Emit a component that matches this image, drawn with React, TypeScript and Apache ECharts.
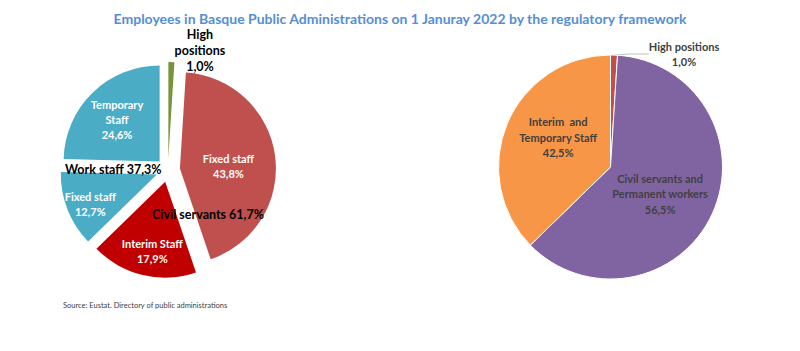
import React, { useEffect, useRef } from "react";
import * as echarts from "echarts";

const TITLE = "Employees in Basque Public Administrations on 1 Januray 2022 by the regulatory framework";
const SOURCE = "Source: Eustat. Directory of public administrations";

// Left chart: detailed breakdown (clockwise from 12 o'clock)
const leftNames = ["High\npositions", "Fixed staff", "Interim Staff", "Fixed staff", "Temporary\nStaff"];
const leftValues = [1.0, 43.8, 17.9, 12.7, 24.6];
const leftColors = ["#77933C", "#C0504D", "#C00000", "#4BACC6", "#4BACC6"];
const leftGroups = ["High positions", "Civil servants", "Civil servants", "Work staff", "Work staff"];

// Right chart: wedge sizes as drawn, and the shares printed on them
const rightNames = ["High positions", "Civil servants and\nPermanent workers", "Interim  and\nTemporary Staff"];
const rightValues = [1.0, 61.7, 37.3];
const rightPrinted = [1.0, 56.5, 42.5];
const rightColors = ["#C0504D", "#8064A2", "#F79646"];

const FONT = "Lato";
const fmt = (v: number) => v.toFixed(1).replace(".", ",") + "%";

// label nudges relative to the library's default inside position
const leftNudge: [number, number][] = [[30, -57], [-2, 4], [-1, 20], [-19, 11], [-7, -5]];
const rightNudge: [number, number][] = [[0, 0], [-4, 2], [2, -7]];

function groupTotal(g: string) {
  return leftValues.reduce((s, v, i) => (leftGroups[i] === g ? s + v : s), 0);
}

export default function App() {
  const ref = useRef<HTMLDivElement>(null);
  useEffect(() => {
    if (!ref.current) return;
    const chart = echarts.init(ref.current, undefined, { renderer: "svg" });
    chart.setOption({
      animation: false,
      backgroundColor: "#ffffff",
      title: {
        text: TITLE,
        left: "center",
        top: 6,
        textStyle: { fontFamily: FONT, fontWeight: "bold", fontSize: 14, color: "#558ED5" },
      },
      series: [
        {
          type: "pie",
          center: [168, 170],
          radius: 96,
          startAngle: 90,
          clockwise: true,
          selectedMode: "multiple",
          selectedOffset: 12,
          emphasis: { disabled: true },
          labelLine: { show: false },
          label: {
            show: true,
            position: "inside",
            fontFamily: FONT,
            fontWeight: "bold",
            fontSize: 11,
            lineHeight: 15,
            color: "#ffffff",
            formatter: (p: any) => `${p.name}\n${fmt(p.value)}`,
          },
          labelLayout: (p: any) => ({ dx: leftNudge[p.dataIndex][0], dy: leftNudge[p.dataIndex][1] }),
          data: leftValues.map((v, i) => ({
            name: leftNames[i],
            value: v,
            selected: true,
            itemStyle: { color: leftColors[i] },
            label: i === 0 ? { color: "#000000", fontSize: 12.5, lineHeight: 16 } : undefined,
          })),
        },
        {
          type: "pie",
          center: [610.5, 167],
          radius: 112,
          startAngle: 90,
          clockwise: true,
          emphasis: { disabled: true },
          itemStyle: { borderColor: "#ffffff", borderWidth: 1 },
          label: {
            show: true,
            position: "inside",
            fontFamily: FONT,
            fontWeight: "bold",
            fontSize: 11,
            lineHeight: 15.5,
            color: "#404040",
            formatter: (p: any) => `${p.name}\n${fmt(rightPrinted[p.dataIndex])}`,
          },
          labelLayout: (p: any) =>
            p.dataIndex === 0
              ? { x: 684, y: 54, align: "center", verticalAlign: "middle" }
              : { dx: rightNudge[p.dataIndex][0], dy: rightNudge[p.dataIndex][1] },
          data: rightValues.map((v, i) => ({
            name: rightNames[i],
            value: v,
            itemStyle: { color: rightColors[i] },
            label: i === 0 ? { position: "outside" } : undefined,
            labelLine: i === 0 ? { show: true, length: 10, length2: 20, lineStyle: { color: "#BFBFBF", width: 1 } } : undefined,
          })),
        },
      ],
      graphic: [
        {
          type: "text",
          left: 65,
          top: 163,
          z: 100,
          style: {
            text: `Work staff ${fmt(groupTotal("Work staff"))}`,
            fontFamily: FONT,
            fontWeight: "bold",
            fontSize: 12.5,
            fill: "#000000",
          },
        },
        {
          type: "text",
          left: 152,
          top: 208,
          z: 100,
          style: {
            text: `Civil servants ${fmt(groupTotal("Civil servants"))}`,
            fontFamily: FONT,
            fontWeight: "bold",
            fontSize: 12.5,
            fill: "#000000",
          },
        },
        {
          type: "text",
          left: 63,
          top: 301,
          z: 100,
          style: { text: SOURCE, fontFamily: FONT, fontSize: 7.5, fill: "#404040" },
        },
      ],
    });
    return () => chart.dispose();
  }, []);
  return <div ref={ref} style={{ position: "absolute", left: 0, top: 0, width: 800, height: 351 }} />;
}
